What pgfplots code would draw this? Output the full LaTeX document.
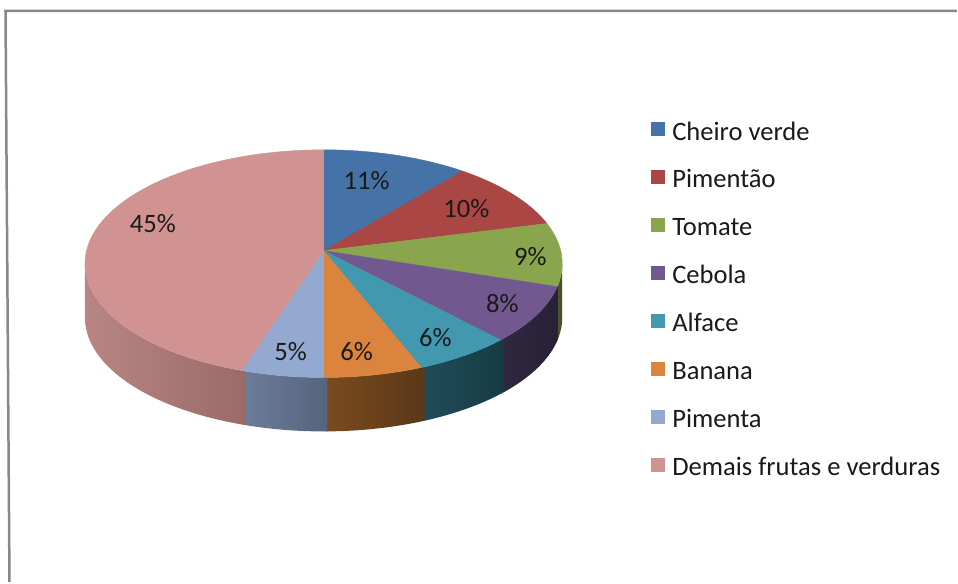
\documentclass[border=0pt]{standalone}
\usepackage{fontspec}
\setmainfont{Carlito}
\usepackage{pgfplots}
\pgfplotsset{compat=1.18}
\usepackage{pgfplotstable}

% top colours
\definecolor{sc0}{HTML}{4572A7}
\definecolor{sc1}{HTML}{AA4643}
\definecolor{sc2}{HTML}{89A54E}
\definecolor{sc3}{HTML}{71588F}
\definecolor{sc4}{HTML}{4198AF}
\definecolor{sc5}{HTML}{DB843D}
\definecolor{sc6}{HTML}{93A9CF}
\definecolor{sc7}{HTML}{D19392}
% wall colours (left / right)
\definecolor{wl2}{HTML}{4B5A2A}\definecolor{wr2}{HTML}{3E4B22}
\definecolor{wl3}{HTML}{30283F}\definecolor{wr3}{HTML}{282036}
\definecolor{wl4}{HTML}{1F4D59}\definecolor{wr4}{HTML}{173B45}
\definecolor{wl5}{HTML}{7C4B1F}\definecolor{wr5}{HTML}{5B3818}
\definecolor{wl6}{HTML}{6B7E9B}\definecolor{wr6}{HTML}{56637D}
\definecolor{wl7}{HTML}{B88583}\definecolor{wr7}{HTML}{9B6B68}
\definecolor{txt}{HTML}{1A1A1A}
\definecolor{frame}{HTML}{888888}

\pgfplotstableread{
label value
Cheiro 11
Pimentao 10
Tomate 9
Cebola 8
Alface 6
Banana 6
Pimenta 5
Demais 45
}\piedata

% cumulative angles (degrees, clockwise from the top)
\gdef\cum{0}
\foreach \i in {0,...,7}{%
  \pgfplotstablegetelem{\i}{value}\of\piedata
  \pgfmathsetmacro\va{\cum*3.6}%
  \pgfmathsetmacro\vb{(\cum+\pgfplotsretval)*3.6}%
  \pgfmathsetmacro\wa{max(\va-0.8,96.55)}%
  \pgfmathsetmacro\wb{max(\wa,min(\vb,263.45))}%
  \expandafter\xdef\csname sa\i\endcsname{\va}%
  \expandafter\xdef\csname sb\i\endcsname{\vb}%
  \expandafter\xdef\csname wa\i\endcsname{\wa}%
  \expandafter\xdef\csname wb\i\endcsname{\wb}%
  \pgfmathsetmacro\newcum{\cum+\pgfplotsretval}%
  \xdef\cum{\newcum}%
}

\begin{document}
\begin{tikzpicture}
\begin{axis}[
  x=1bp, y=1bp, xmin=0, xmax=958, ymin=0, ymax=583,
  scale only axis, hide axis, clip=false,
  declare function={
    px(\t)=324+237.4*sin(\t)/(1+0.114*cos(\t));
    py(\t)=332+112.5*cos(\t)/(1+0.114*cos(\t));
  },
  legend style={at={(axis cs:652,461)}, anchor=north west, draw=none, fill=none,
    inner sep=0pt, row sep=24bp, column sep=7bp,
    font=\fontsize{26.6bp}{31bp}\selectfont, text=txt,
    nodes={inner sep=0pt, text height=18bp, text depth=6bp}},
  legend cell align=left,
  legend image code/.code={\fill[#1, draw=none] (0bp,-2bp) rectangle (14bp,12bp);},
]
\fill[white] (axis cs:0,0) rectangle (axis cs:958,583);
\draw[frame, line width=2.5bp] (axis cs:9.5,0) -- (axis cs:5.5,572) -- (axis cs:958,572);

% front walls
\pgfplotsinvokeforeach{2,...,7}{
  \addplot[forget plot, draw=none, left color=wl#1, right color=wr#1,
    domain=0:2, samples=121, variable=\u]
    ({px(\csname wa#1\endcsname+(\csname wb#1\endcsname-\csname wa#1\endcsname)*min(\u,2-\u))},
     {py(\csname wa#1\endcsname+(\csname wb#1\endcsname-\csname wa#1\endcsname)*min(\u,2-\u))-54*(\u>1)})
    -- cycle;
}
% top faces
\pgfplotsinvokeforeach{0,...,7}{
  \addplot[forget plot, fill=sc#1, draw=sc#1, line width=0.4bp,
    domain=\csname sa#1\endcsname:\csname sb#1\endcsname, samples=60, variable=\t]
    ({px(\t)},{py(\t)}) -- (axis cs:324,332) -- cycle;
}

\addlegendimage{fill=sc0}\addlegendentry{Cheiro verde}
\addlegendimage{fill=sc1}\addlegendentry{Pimentão}
\addlegendimage{fill=sc2}\addlegendentry{Tomate}
\addlegendimage{fill=sc3}\addlegendentry{Cebola}
\addlegendimage{fill=sc4}\addlegendentry{Alface}
\addlegendimage{fill=sc5}\addlegendentry{Banana}
\addlegendimage{fill=sc6}\addlegendentry{Pimenta}
\addlegendimage{fill=sc7}\addlegendentry{Demais frutas e verduras}

\begin{scope}[every node/.style={font=\fontsize{26.6bp}{31bp}\selectfont, text=txt, inner sep=0pt}]
\node at (axis cs:367,402) {11\%};
\node at (axis cs:467,374) {10\%};
\node at (axis cs:531,326) {9\%};
\node at (axis cs:503,279) {8\%};
\node at (axis cs:436,245) {6\%};
\node at (axis cs:357,231) {6\%};
\node at (axis cs:291,231) {5\%};
\node at (axis cs:153,359) {45\%};
\end{scope}
\end{axis}
\end{tikzpicture}
\end{document}
